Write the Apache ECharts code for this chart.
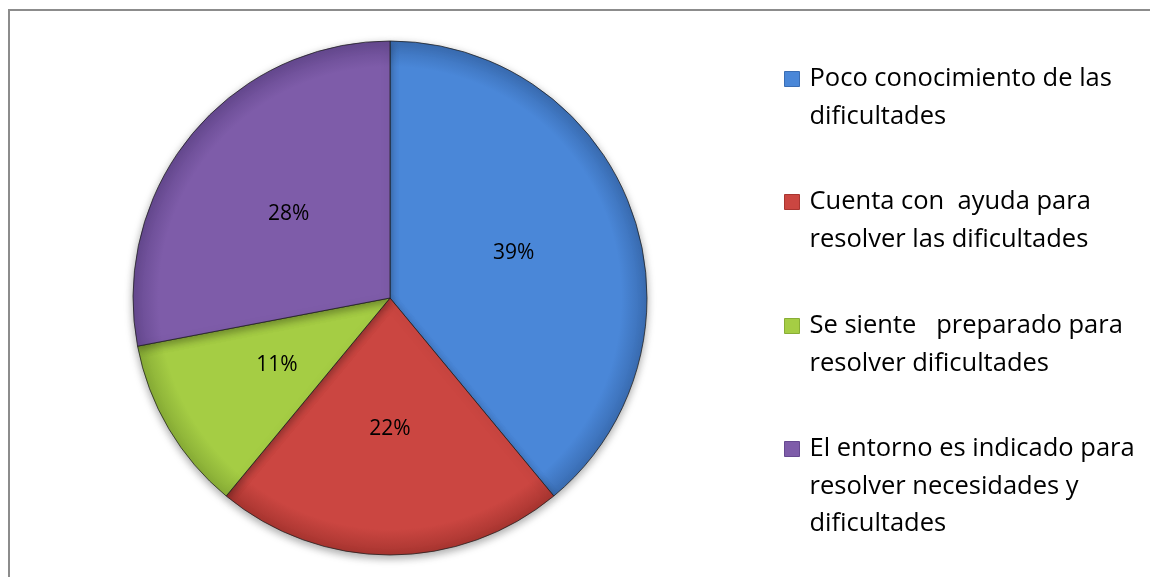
<!DOCTYPE html>
<html>
<head>
<meta charset="utf-8">
<script src="https://cdn.jsdelivr.net/npm/echarts@6/dist/echarts.min.js"></script>
<style>
    html, body { margin: 0; padding: 0; background: #fff; }
    #chart { width: 1150px; height: 577px; }
</style>
</head>
<body>
<div id="chart"></div>
<script>
    // categorias y valores (porcentajes)
    const categories = [
        'Poco conocimiento de las dificultades',
        'Cuenta con  ayuda para resolver las dificultades',
        'Se siente   preparado para resolver dificultades',
        'El entorno es indicado para resolver necesidades y dificultades'
    ];
    const legendLines = [
        ['Poco conocimiento de las', 'dificultades'],
        ['Cuenta con  ayuda para', 'resolver las dificultades'],
        ['Se siente   preparado para', 'resolver dificultades'],
        ['El entorno es indicado para', 'resolver necesidades y', 'dificultades']
    ];
    const values = [39, 22, 11, 28];

    const flatColors = ['#4a87d8', '#cb4641', '#a5cd44', '#7e5ca9'];
    const edgeColors = ['#3a6db3', '#a83530', '#88ad36', '#664990'];

    const chart = echarts.init(document.getElementById('chart'));

    const LH = 37.5;
    const iconCenters = [79, 202, 326, 449];

    const legends = categories.map(function (name, i) {
        const n = legendLines[i].length;
        return {
            data: [{ name: name, itemStyle: { color: flatColors[i], borderColor: edgeColors[i], borderWidth: 1 } }],
            orient: 'vertical',
            left: 784,
            top: iconCenters[i] - (2 * n - 1) * LH / 2,
            padding: 0,
            icon: 'rect',
            itemWidth: 15,
            itemHeight: 15,
            selectedMode: false,
            textStyle: {
                fontFamily: 'Open Sans',
                fontSize: 25.5,
                color: '#000',
                lineHeight: LH,
                padding: [0, 0, 0, 5]
            },
            // lineas vacias delante para que el icono quede a la altura de la primera linea
            formatter: function () {
                return '\n'.repeat(n - 1) + legendLines[i].join('\n');
            }
        };
    });

    const option = {
        animation: false,
        legend: legends,
        graphic: [{
            type: 'rect',
            shape: { x: 9, y: 10, width: 1200, height: 600 },
            style: { fill: 'none', stroke: '#8c8c8c', lineWidth: 2 }
        }],
        series: [{
            type: 'pie',
            center: [390, 298],
            radius: 257,
            startAngle: 90,
            clockwise: true,
            label: {
                show: true,
                position: 'inside',
                formatter: '{c}%',
                fontFamily: 'Open Sans',
                fontSize: 21,
                color: '#000'
            },
            labelLine: { show: false },
            emphasis: { scale: false },
            itemStyle: {
                borderColor: 'rgba(30,30,30,0.75)',
                borderWidth: 1,
                shadowBlur: 8,
                shadowOffsetY: 3,
                shadowColor: 'rgba(0,0,0,0.35)'
            },
            data: categories.map(function (name, i) {
                return {
                    name: name,
                    value: values[i],
                    itemStyle: {
                        color: {
                            type: 'radial', x: 390, y: 298, r: 257, global: true,
                            colorStops: [
                                { offset: 0, color: flatColors[i] },
                                { offset: 0.9, color: flatColors[i] },
                                { offset: 1, color: edgeColors[i] }
                            ]
                        }
                    }
                };
            })
        }]
    };

    chart.setOption(option);
</script>
</body>
</html>
